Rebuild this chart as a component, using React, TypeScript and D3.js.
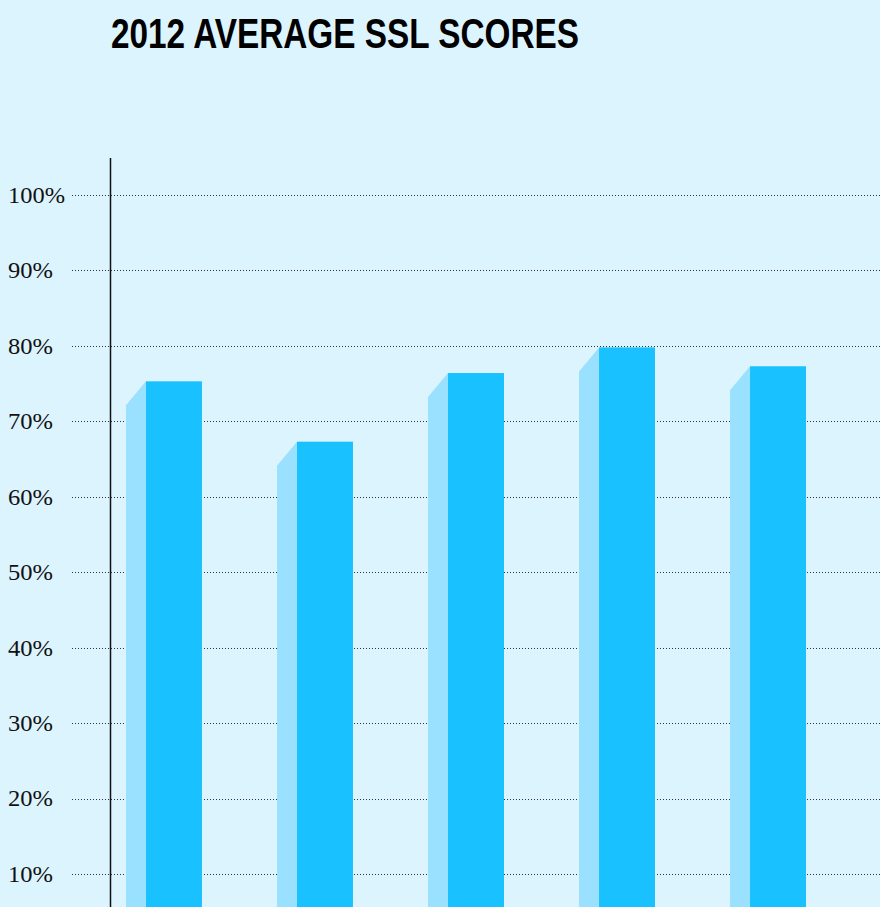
import React from 'react';
import * as d3 from 'd3';

// values (percent)
const categories = ['Group 1', 'Group 2', 'Group 3', 'Group 4', 'Group 5'];
const scores = [75.3, 67.3, 76.4, 79.8, 77.3];
const yTicks = [10, 20, 30, 40, 50, 60, 70, 80, 90, 100];
const title = '2012 AVERAGE SSL SCORES';

const W = 880;
const H = 907;

const App = () => {
  const y = d3.scaleLinear().domain([0, 100]).range([949.4, 195]);

  // band covers the side face + front face of each bar
  const x = d3.scaleBand()
    .domain(categories)
    .range([126, 806])
    .paddingInner(0.497)
    .paddingOuter(0);

  const sideW = 20; // width of the lighter side face
  const drop = 24;  // how much lower the side's top sits

  return (
    <svg width={W} height={H} style={{ position: 'absolute', left: 0, top: 0, display: 'block' }}>
      <rect width={W} height={H} fill="#dcf4fe" />
      <text x={111} y={48} fontFamily="'Liberation Sans Narrow', 'Arial Narrow', 'Liberation Sans', sans-serif"
        fontWeight="bold" fontSize={42} fill="#000" textLength={468} lengthAdjust="spacingAndGlyphs">
        {title}
      </text>

      {/* gridlines + labels */}
      {yTicks.map(t => (
        <g key={t}>
          <line x1={72} x2={W} y1={Math.round(y(t)) + 0.5} y2={Math.round(y(t)) + 0.5}
            stroke="#333" strokeWidth={1} strokeDasharray="1 2" />
          <text x={8} y={y(t)} dy="0.33em" fontFamily="'Liberation Serif', 'Times New Roman', serif"
            fontSize={24} fill="#111" textLength={t === 100 ? 57 : 45} lengthAdjust="spacingAndGlyphs">{t}%</text>
        </g>
      ))}

      {/* bars */}
      {categories.map((c, i) => {
        const x0 = x(c) as number;
        const bw = x.bandwidth();
        const top = y(scores[i]);
        const path = d3.path();
        path.moveTo(x0, top + drop);
        path.lineTo(x0 + sideW, top);
        path.lineTo(x0 + sideW, H);
        path.lineTo(x0, H);
        path.closePath();
        return (
          <g key={c}>
            <path d={path.toString()} fill="#99e1ff" />
            <rect x={x0 + sideW} y={top} width={bw - sideW} height={H - top} fill="#1ac1ff" />
          </g>
        );
      })}

      <line x1={110.5} x2={110.5} y1={158} y2={H} stroke="#111" strokeWidth={1.5} />
    </svg>
  );
};

export default App;
